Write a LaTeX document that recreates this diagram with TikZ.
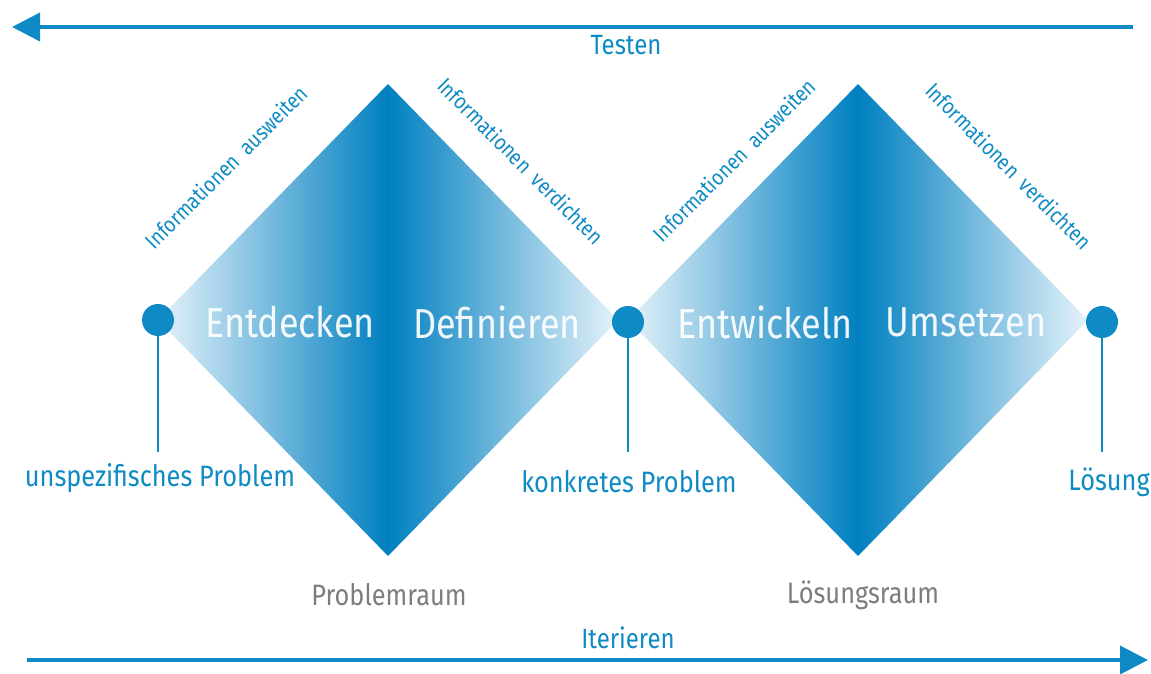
\documentclass[tikz,border=0pt]{standalone}
\usepackage{fontspec}
\setmainfont{Fira Sans}
\newfontfamily\labfont[FakeStretch=0.86]{Fira Sans}
\usetikzlibrary{arrows.meta}
\definecolor{dtblue}{RGB}{14,138,196}
\definecolor{dtdark}{RGB}{0,128,192}
\definecolor{dtlight}{RGB}{230,243,250}
\definecolor{dtgray}{RGB}{125,125,125}
\begin{document}
\begin{tikzpicture}[x=1bp,y=-1bp,
  phase/.style={font=\labfont\fontsize{42}{42}\selectfont, text=white, text opacity=0.93, inner sep=0},
  slant/.style={font=\labfont\fontsize{22}{22}\selectfont, text=dtblue, inner sep=0},
  endlabel/.style={font=\labfont\fontsize{29.6}{30}\selectfont, text=dtblue, inner sep=0},
  space/.style={font=\labfont\fontsize{29.6}{30}\selectfont, text=dtgray, inner sep=0},
  flow/.style={font=\labfont\fontsize{28}{28}\selectfont, text=dtblue, inner sep=0},
  dot/.style={circle, fill=dtblue, minimum size=32bp, inner sep=0},
  stem/.style={draw=dtblue, line width=1.8bp},
  bigarrow/.style={draw=dtblue, line width=4bp, -{Triangle[length=28bp,width=28bp]}},
  diamondfill/.style={left color=dtlight, right color=dtlight, middle color=dtdark}
]
\useasboundingbox (0,0) rectangle (1151,674);

% the two diamonds
\shade[diamondfill] (388,84) -- (618,320) -- (388,556) -- (158,320) -- cycle;
\shade[diamondfill] (858,84) -- (1088,320) -- (858,556) -- (628,320) -- cycle;

% testing and iterating arrows
\coordinate (t0) at (1133,27);
\coordinate (t1) at (12,27);
\draw[bigarrow] (t0) -- (t1);
\node[flow] (testen) at (626,45) {Testen};
\coordinate (i0) at (27,660);
\coordinate (i1) at (1148,660);
\draw[bigarrow] (i0) -- (i1);
\node[flow] (iter) at (628,638) {Iterieren};

% phase names
\node[phase] (entd) at (290,322) {Entdecken};
\node[phase] (defi) at (497,322) {Definieren};
\node[phase] (entw) at (765,322) {Entwickeln};
\node[phase] (umse) at (966,322) {Umsetzen};

% labels along the diamond edges
\node[slant, rotate=45] (a1) at (226,167) {Informationen\ \ ausweiten};
\node[slant, rotate=-45] (v1) at (521,161) {Informationen\ \ verdichten};
\node[slant, rotate=45] (a2) at (734,160) {Informationen\ \ ausweiten};
\node[slant, rotate=-45] (v2) at (1009,166) {Informationen\ \ verdichten};

% milestones
\node[dot] (p1) at (158,320) {};
\node[dot] (p2) at (628,322) {};
\node[dot] (p3) at (1102,322) {};
\coordinate (s1) at (158,452);
\coordinate (s2) at (628,452);
\coordinate (s3) at (1102,452);
\draw[stem] (p1.south) -- (s1);
\draw[stem] (p2.south) -- (s2);
\draw[stem] (p3.south) -- (s3);
\node[endlabel] (l1) at (160,478) {unspezifisches Problem};
\node[endlabel] (l2) at (629,482) {konkretes Problem};
\node[endlabel] (l3) at (1109,482) {Lösung};

% spaces
\node[space] (pr) at (389,595) {Problemraum};
\node[space] (lr) at (863,595) {Lösungsraum};
\end{tikzpicture}
\end{document}
